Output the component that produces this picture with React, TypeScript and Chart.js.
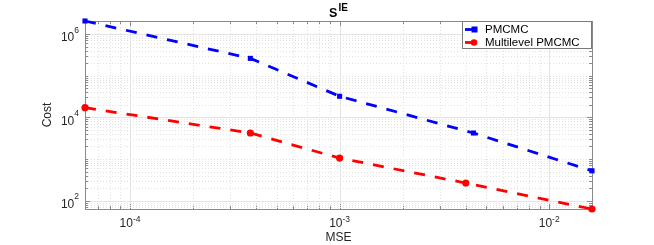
import React, { useEffect, useRef } from "react";
import { Chart, registerables } from "chart.js";

Chart.register(...registerables);

// ---- data ----
const titleMain = "S";
const titleSup = "IE";
const xTitle = "MSE";
const yTitle = "Cost";
const seriesNames = ["PMCMC", "Multilevel PMCMC"];

const pmcmcMse = [6.1e-5, 3.75e-4, 1.0e-3, 4.35e-3, 1.6e-2];
const pmcmcCost = [2.05e6, 2.6e5, 3.2e4, 4.2e3, 520];
const mlMse = [6.1e-5, 3.75e-4, 1.0e-3, 4.0e-3, 1.6e-2];
const mlCost = [1.7e4, 4.2e3, 1.05e3, 265, 63];

const xTickValues = [1e-4, 1e-3, 1e-2];
const yTickValues = [1e2, 1e4, 1e6];

const FONT = '"Liberation Sans", Arial, Helvetica, sans-serif';
const expOf = (v: number) => String(Math.round(Math.log10(v)));

const decorPlugin = {
  id: "decor",
  beforeDatasetsDraw(chart: any) {
    const { ctx, chartArea: a, scales } = chart;
    const xs = scales.x, ys = scales.y;
    ctx.save();
    const drawGrid = (scale: any, horizontal: boolean, majors: number[]) => {
      const lo = Math.floor(Math.log10(scale.min));
      const hi = Math.ceil(Math.log10(scale.max));
      for (let d = lo; d <= hi; d++) {
        for (let m = 1; m <= 9; m++) {
          const v = m * Math.pow(10, d);
          if (v < scale.min * 0.9999 || v > scale.max * 1.0001) continue;
          const p = Math.round(scale.getPixelForValue(v)) + 0.5;
          const isMajor = majors.some((t) => Math.abs(t - v) / t < 1e-6);
          ctx.beginPath();
          ctx.lineWidth = 1;
          if (isMajor) {
            ctx.setLineDash([]);
            ctx.strokeStyle = "#e4e4e4";
          } else {
            ctx.setLineDash([1, 2]);
            ctx.strokeStyle = "#e2e2e2";
          }
          if (horizontal) {
            ctx.moveTo(a.left, p); ctx.lineTo(a.right, p);
          } else {
            ctx.moveTo(p, a.top); ctx.lineTo(p, a.bottom);
          }
          ctx.stroke();
          ctx.setLineDash([]);
          ctx.strokeStyle = "#8a8a8a";
          const L = isMajor ? 5 : 3;
          ctx.beginPath();
          if (horizontal) {
            ctx.moveTo(a.left, p); ctx.lineTo(a.left + L, p);
            ctx.moveTo(a.right, p); ctx.lineTo(a.right - L, p);
          } else {
            ctx.moveTo(p, a.bottom); ctx.lineTo(p, a.bottom - L);
            ctx.moveTo(p, a.top); ctx.lineTo(p, a.top + L);
          }
          ctx.stroke();
        }
      }
    };
    drawGrid(xs, false, xTickValues);
    drawGrid(ys, true, yTickValues);
    ctx.setLineDash([]);
    ctx.strokeStyle = "#8a8a8a";
    ctx.lineWidth = 1;
    ctx.strokeRect(Math.round(a.left) + 0.5, Math.round(a.top) + 0.5,
      Math.round(a.right - a.left), Math.round(a.bottom - a.top));

    // tick labels (10 with superscript exponent)
    ctx.fillStyle = "#262626";
    ctx.textBaseline = "alphabetic";
    const baseFont = "12px " + FONT;
    const supFont = "8.5px " + FONT;
    xs.ticks.forEach((t: any) => {
      const px = xs.getPixelForValue(t.value);
      const e = expOf(t.value);
      ctx.font = baseFont;
      const wb = ctx.measureText("10").width;
      ctx.font = supFont;
      const we = ctx.measureText(e).width;
      const sx = px - (wb + we) / 2;
      ctx.textAlign = "left";
      ctx.font = baseFont;
      ctx.fillText("10", sx, a.bottom + 18);
      ctx.font = supFont;
      ctx.fillText(e, sx + wb, a.bottom + 12.7);
    });
    ys.ticks.forEach((t: any) => {
      const py = ys.getPixelForValue(t.value);
      const e = expOf(t.value);
      ctx.font = supFont;
      const we = ctx.measureText(e).width;
      const right = a.left - 6;
      ctx.textAlign = "right";
      ctx.font = supFont;
      ctx.fillText(e, right, py - 1.3);
      ctx.font = baseFont;
      ctx.fillText("10", right - we, py + 7.3);
    });
    ctx.restore();
  },
  afterDatasetsDraw(chart: any) {
    const { ctx, chartArea: a } = chart;
    ctx.save();
    // title
    const cx = (a.left + a.right) / 2;
    ctx.fillStyle = "#000";
    ctx.textBaseline = "alphabetic";
    ctx.textAlign = "left";
    ctx.font = "bold 12.5px " + FONT;
    const w1 = ctx.measureText(titleMain).width;
    ctx.font = "bold 10px " + FONT;
    const w2 = ctx.measureText(titleSup).width;
    const sx = cx - (w1 + w2 + 1) / 2;
    ctx.font = "bold 12.5px " + FONT;
    ctx.fillText(titleMain, sx, 17);
    ctx.font = "bold 10px " + FONT;
    ctx.fillText(titleSup, sx + w1 + 1, 11);
    // axis titles
    ctx.fillStyle = "#262626";
    ctx.font = "12px " + FONT;
    ctx.textAlign = "center";
    ctx.textBaseline = "middle";
    ctx.fillText(xTitle, cx, 237.5);
    ctx.save();
    ctx.translate(48, (a.top + a.bottom) / 2);
    ctx.rotate(-Math.PI / 2);
    ctx.fillText(yTitle, 0, 0);
    ctx.restore();
    // legend
    const bx = 462, by = 21, bw = 129, bh = 27;
    ctx.fillStyle = "#fff";
    ctx.fillRect(bx, by, bw, bh);
    ctx.strokeStyle = "#7a7a7a";
    ctx.lineWidth = 1;
    ctx.strokeRect(bx + 0.5, by + 0.5, bw, bh);
    const ds = chart.data.datasets;
    const rows = [29.5, 42.5];
    ds.forEach((d: any, i: number) => {
      const y = rows[i];
      ctx.strokeStyle = d.borderColor;
      ctx.lineWidth = 2.8;
      ctx.setLineDash([]);
      ctx.beginPath();
      ctx.moveTo(465, y);
      ctx.lineTo(477, y);
      ctx.stroke();
      ctx.fillStyle = d.borderColor;
      if (d.pointStyle === "rect") {
        ctx.fillRect(471.5, y - 3, 6, 6);
      } else {
        ctx.beginPath();
        ctx.arc(474, y, 3.3, 0, Math.PI * 2);
        ctx.fill();
      }
      ctx.fillStyle = "#000";
      ctx.font = "11.5px " + FONT;
      ctx.textAlign = "left";
      ctx.textBaseline = "middle";
      ctx.fillText(d.label, 485, y);
    });
    ctx.restore();
  },
};

export default function App() {
  const ref = useRef<HTMLCanvasElement | null>(null);
  useEffect(() => {
    if (!ref.current) return;
    const allX = [...pmcmcMse, ...mlMse];
    const allY = [...pmcmcCost, ...mlCost];
    const chart = new Chart(ref.current, {
      type: "line",
      data: {
        datasets: [
          {
            label: seriesNames[0],
            data: pmcmcMse.map((x, i) => ({ x, y: pmcmcCost[i] })),
            borderColor: "#0000ff",
            backgroundColor: "#0000ff",
            borderWidth: 2.8,
            borderDash: [11, 10],
            pointStyle: "rect",
            pointRadius: 3.6,
            pointBorderWidth: 0,
            tension: 0,
            clip: false,
          } as any,
          {
            label: seriesNames[1],
            data: mlMse.map((x, i) => ({ x, y: mlCost[i] })),
            borderColor: "#ff0000",
            backgroundColor: "#ff0000",
            borderWidth: 2.8,
            borderDash: [11, 10],
            pointStyle: "circle",
            pointRadius: 3.6,
            pointBorderWidth: 0,
            tension: 0,
            clip: false,
          } as any,
        ],
      },
      options: {
        responsive: false,
        animation: false,
        devicePixelRatio: 1,
        layout: { padding: { top: 21, right: 62, left: 0, bottom: 0 } },
        plugins: { legend: { display: false }, title: { display: false }, tooltip: { enabled: false } },
        scales: {
          x: {
            type: "logarithmic",
            position: "bottom",
            min: Math.min(...allX),
            max: Math.max(...allX),
            grid: { display: false, drawTicks: false },
            border: { display: false },
            ticks: { display: false, autoSkip: false },
            afterBuildTicks: (s: any) => {
              s.ticks = xTickValues.map((v) => ({ value: v }));
            },
            afterFit: (s: any) => {
              s.height = 36;
            },
          },
          y: {
            type: "logarithmic",
            position: "left",
            min: Math.min(...allY),
            max: Math.max(...allY),
            grid: { display: false, drawTicks: false },
            border: { display: false },
            ticks: { display: false, autoSkip: false },
            afterBuildTicks: (s: any) => {
              s.ticks = yTickValues.map((v) => ({ value: v }));
            },
            afterFit: (s: any) => {
              s.width = 85;
            },
          },
        },
      } as any,
      plugins: [decorPlugin as any],
    });
    return () => chart.destroy();
  }, []);
  return (
    <div style={{ position: "fixed", left: 0, top: 0, width: 654, height: 245, background: "#fff" }}>
      <canvas ref={ref} width={654} height={245} style={{ display: "block", width: 654, height: 245 }} />
    </div>
  );
}
